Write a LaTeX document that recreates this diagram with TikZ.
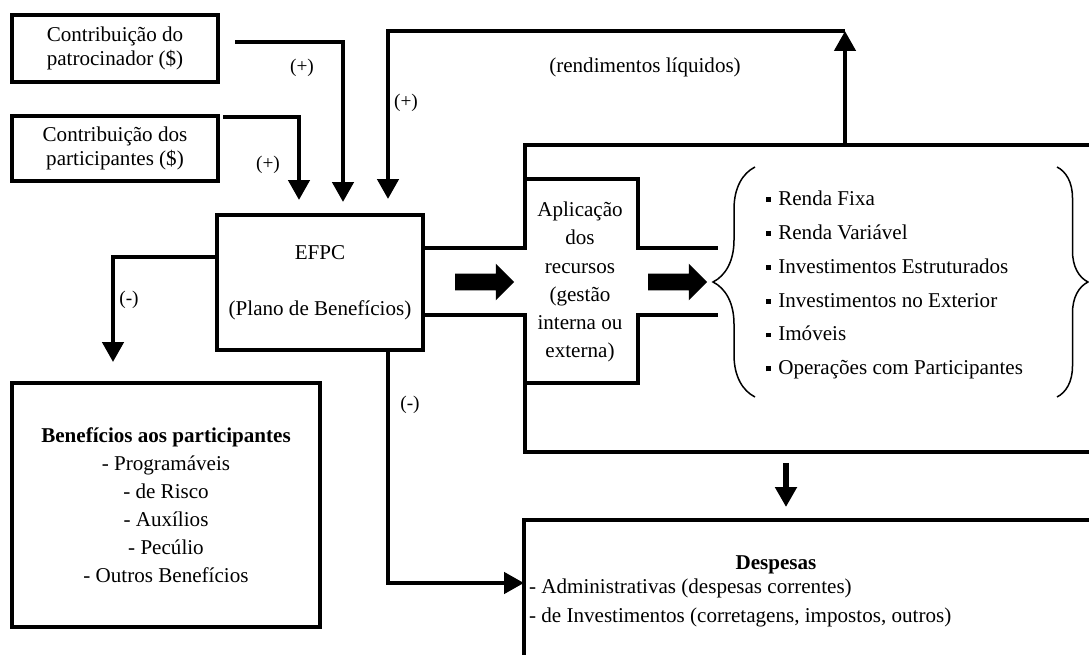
\documentclass[tikz,border=0pt]{standalone}
\usepackage{fontspec}
\setmainfont{Liberation Serif}
\usetikzlibrary{arrows.meta,calc,shapes.arrows,decorations.pathreplacing}

\newcommand{\blt}{\rule[2pt]{2.8pt}{2.8pt}\hspace{4pt}}

\tikzset{
  box/.style={draw, line width=0.09cm, align=center, inner sep=0pt, outer sep=0pt},
  wall/.style={line width=0.09cm},
  flow/.style={line width=0.09cm, -{Triangle[width=0.42cm,length=0.4cm]}},
  fat/.style={single arrow, fill=black, inner sep=0.16cm, minimum height=1.18cm, single arrow head extend=0.2cm},
  sign/.style={font=\fontsize{11}{13}\selectfont},
  curly/.style={line width=0.03cm, decorate, decoration={brace, amplitude=#1}},
}

\begin{document}
\begin{tikzpicture}[x=0.02cm, y=-0.02cm, font=\fontsize{12}{14}\selectfont]
	\useasboundingbox (0,0) rectangle (1089,655);
	% Nodes
	\node[box, minimum width=4.12cm, minimum height=1.34cm] (patroc) at (115,48.5) {Contribuição do\\patrocinador (\$)};
	\node[box, minimum width=4.12cm, minimum height=1.3cm] (partic) at (115,148.5) {Contribuição dos\\participantes (\$)};
	\node[box, minimum width=4.12cm, minimum height=2.7cm] (efpc) at (320,282.5) {EFPC\\[18pt](Plano de Benefícios)};
	\node[box, minimum width=6.16cm, minimum height=4.88cm, font=\fontsize{12}{16}\selectfont] (benef) at (166,505) {\textbf{Benefícios aos participantes}\\- Programáveis\\- de Risco\\- Auxílios\\- Pecúlio\\- Outros Benefícios};
	\node[anchor=north west, minimum width=13.5cm, minimum height=6.14cm, inner sep=0pt, outer sep=0pt] (invest) at (525,145) {};
	\node[align=center, font=\fontsize{12}{16}\selectfont] (aplic) at (580,282) {Aplicação\\dos\\recursos\\(gestão\\interna ou\\externa)};
	\node[align=left, anchor=west, inner sep=0pt, font=\fontsize{12}{19.3}\selectfont] (ativos) at (766,285) {\blt Renda Fixa\\\blt Renda Variável\\\blt Investimentos Estruturados\\\blt Investimentos no Exterior\\\blt Imóveis\\\blt Operações com Participantes};
	\node[box, anchor=north west, minimum width=14cm, minimum height=4cm] (desbox) at (524,520) {};
	\node (desptit) at (776,565) {\textbf{Despesas}};
	\node[align=left, anchor=west, inner sep=1pt, font=\fontsize{12}{16.5}\selectfont] (desplist) at (527,602.5) {- Administrativas (despesas correntes)\\- de Investimentos (corretagens, impostos, outros)};
	\node[fat] (arrA) at (480.5,282) {};
	\node[fat] (arrB) at (673.5,282) {};
	\node (rend) at (645,67) {(rendimentos líquidos)};
	\node[sign] (sA) at (302,68) {(+)};
	\node[sign] (sB) at (268,165) {(+)};
	\node[sign] (sC) at (406,103) {(+)};
	\node[sign] (sL) at (129,300) {(-)};
	\node[sign] (sD) at (410,405) {(-)};
	% Walls
	\draw[wall] (efpc.east |- 0,248) -| (invest.north west) -- (invest.north east);
	\draw[wall] (efpc.east |- 0,315) -| (invest.south west) -- (invest.south east);
	\draw[wall] (525,179) -| (638,248) -- (718,248);
	\draw[wall] (525,383) -| (638,315) -- (718,315);
	\draw[curly=0.84cm] (755,397) -- (755,167);
	\draw[curly=0.62cm] (1057,167) -- (1057,397);
	% Edges
	\coordinate (pa) at (235,42);
	\coordinate (pb) at (223,117);
	\coordinate (toprt) at (845,31);
	\draw[flow, shorten >=0.26cm] (pa) -| ($(efpc.north)+(23,0)$);
	\draw[flow, shorten >=0.3cm] (pb) -| ($(efpc.north)+(-21,0)$);
	\draw[flow] (invest.north west -| toprt) -- (toprt);
	\draw[flow, shorten >=0.32cm] (toprt) -| ($(efpc.north)+(68,0)$);
	\draw[flow, shorten >=0.42cm] ($(efpc.west)+(0,-25.5)$) -| ($(benef.north)+(-53,0)$);
	\draw[flow] ($(efpc.south)+(68,0)$) |- ($(desbox.north west)+(0,63)$);
	\coordinate (dn) at ($(invest.south west)+(261,0)$);
	\draw[flow, line width=0.13cm, shorten <=0.22cm, shorten >=0.26cm] (dn) -- (dn |- desbox.north);
\end{tikzpicture}
\end{document}
